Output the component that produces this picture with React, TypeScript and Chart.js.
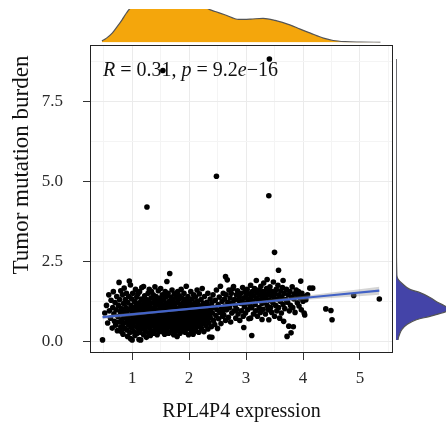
import React, { useEffect, useRef } from "react";
import { Chart, registerables } from "chart.js";

Chart.register(...registerables);

// ---------------- data ----------------
const xTitle = "RPL4P4 expression";
const yTitle = "Tumor mutation burden";
const corR = "0.31";
const corPMantissa = "9.2";
const corPExp = "\u221216";

const xRange = [0.26, 5.58];
const yRange = [-0.37, 9.27];
const xGridTicks = [0.5, 1, 1.5, 2, 2.5, 3, 3.5, 4, 4.5, 5, 5.5];
const xMajorTicks = [1, 2, 3, 4, 5];
const xTickLabels = ["1", "2", "3", "4", "5"];
const yGridTicks = [0, 1.25, 2.5, 3.75, 5, 6.25, 7.5, 8.75];
const yMajorTicks = [0, 2.5, 5, 7.5];
const yTickLabels = ["0.0", "2.5", "5.0", "7.5"];

// samples with low expression (x < 1.5)
const lowSamples: [number, number][] = [
  [0.48,0.04],[0.52,0.88],[0.55,1.12],[0.57,0.57],[0.59,1.45],[0.6,0.95],
  [0.62,0.72],[0.63,1.28],[0.65,0.41],[0.66,1.05],[0.67,1.55],[0.68,0.86],[0.69,0.62],[0.7,1.21],
  [0.71,0.5],[0.72,0.98],[0.73,1.4],[0.74,0.33],[0.75,0.77],[0.76,1.12],[0.77,1.84],[0.77,0.6],[0.78,1.3],[0.79,0.92],[0.8,0.45],[0.8,1.58],
  [0.81,0.3],[0.81,1.02],[0.82,0.68],[0.83,1.45],[0.83,0.84],[0.84,0.22],[0.85,1.18],[0.85,0.55],[0.86,0.95],[0.86,1.66],[0.87,0.4],[0.88,1.3],[0.88,0.74],[0.89,1.05],[0.9,0.6],[0.9,1.5],
  [0.91,0.88],[0.91,0.35],[0.92,1.22],[0.92,0.15],[0.93,0.7],[0.94,1.4],[0.94,0.5],[0.95,1.88],[0.95,1.0],[0.96,0.27],[0.96,0.8],[0.97,1.76],[0.97,0.08],[0.98,0.62],[0.98,1.12],[0.99,0.42],[0.99,1.33],[1.0,0.93],
  [1.0,0.04],[1.01,0.55],[1.01,1.5],[1.02,0.75],[1.03,1.05],[1.03,0.3],[1.04,1.25],[1.05,0.65],[1.05,0.18],[1.06,0.98],[1.06,1.62],[1.07,0.45],[1.07,0.85],[1.08,1.38],[1.08,1.15],[1.09,0.58],[1.09,0.25],[1.1,1.02],[1.1,0.72],[1.1,1.48],
  [1.11,0.38],[1.11,0.9],[1.12,0.05],[1.12,1.2],[1.13,0.6],[1.13,1.55],[1.14,0.8],[1.14,0.28],[1.15,1.08],[1.15,0.04],[1.15,0.48],[1.16,1.32],[1.16,0.7],[1.17,0.95],[1.17,1.68],[1.18,0.4],[1.18,1.12],[1.19,0.62],[1.19,0.85],[1.2,1.71],[1.2,0.2],[1.2,1.25],
  [1.21,0.52],[1.21,1.0],[1.22,0.75],[1.22,1.42],[1.23,0.33],[1.23,0.9],[1.24,1.15],[1.24,0.58],[1.25,1.3],[1.25,0.12],[1.26,0.82],[1.26,4.2],[1.27,0.45],[1.27,1.05],[1.28,1.5],[1.28,0.68],[1.29,0.25],[1.29,0.95],[1.3,1.22],[1.3,0.55],[1.3,1.62],[1.3,0.78],
  [1.31,0.4],[1.31,1.1],[1.32,0.88],[1.32,0.18],[1.33,1.35],[1.33,0.62],[1.34,0.98],[1.34,1.55],[1.35,0.5],[1.35,0.75],[1.36,1.2],[1.36,0.3],[1.37,0.92],[1.37,1.45],[1.38,0.25],[1.38,0.68],[1.39,1.05],[1.39,0.45],[1.4,1.3],[1.4,0.85],[1.4,1.7],[1.4,0.6],
  [1.41,0.35],[1.41,1.0],[1.42,0.72],[1.42,1.4],[1.43,0.52],[1.43,1.15],[1.44,0.88],[1.44,0.2],[1.45,1.25],[1.45,0.65],[1.46,0.42],[1.46,1.58],[1.47,0.95],[1.47,0.78],[1.48,1.1],[1.48,0.3],[1.49,0.58],[1.49,1.35],[1.5,0.82],[1.5,1.05],[1.5,0.48],[1.5,1.65],
];

// samples with mid expression (1.5 - 2.9)
const midSamples: [number, number][] = [
  [1.51,0.7],[1.51,1.22],[1.52,0.38],[1.52,0.98],[1.53,0.3],[1.53,1.45],[1.54,0.62],[1.54,8.47],[1.55,0.88],[1.55,1.12],[1.56,0.5],[1.56,1.3],[1.57,0.22],[1.57,0.78],[1.58,1.02],[1.58,1.55],[1.59,0.42],[1.59,0.68],[1.6,1.18],[1.6,0.92],[1.6,0.58],[1.6,1.4],
  [1.61,1.87],[1.61,0.35],[1.62,0.8],[1.62,1.08],[1.63,0.55],[1.63,1.5],[1.64,0.98],[1.64,0.25],[1.65,0.7],[1.65,1.25],[1.66,2.12],[1.66,0.45],[1.67,0.88],[1.67,1.15],[1.68,0.62],[1.68,1.38],[1.69,0.32],[1.69,1.0],[1.7,0.75],[1.7,1.6],[1.7,0.5],[1.7,1.2],
  [1.71,0.92],[1.71,0.4],[1.72,1.3],[1.72,0.65],[1.73,1.05],[1.73,0.2],[1.74,0.82],[1.74,1.48],[1.75,0.55],[1.75,1.12],[1.76,0.3],[1.76,0.95],[1.77,1.38],[1.77,0.72],[1.78,0.45],[1.78,1.2],[1.79,0.15],[1.79,0.88],[1.8,1.02],[1.8,0.6],[1.8,1.55],[1.8,0.78],
  [1.81,0.38],[1.81,1.28],[1.82,0.68],[1.82,1.0],[1.83,0.5],[1.83,1.42],[1.84,0.85],[1.84,0.25],[1.85,1.15],[1.85,0.62],[1.86,0.95],[1.86,1.62],[1.87,0.42],[1.87,0.78],[1.88,1.08],[1.88,1.35],[1.89,0.55],[1.89,0.32],[1.9,0.9],[1.9,1.22],
  [1.91,0.7],[1.91,1.5],[1.92,0.45],[1.92,1.05],[1.93,0.82],[1.93,0.28],[1.94,1.3],[1.94,0.6],[1.95,0.95],[1.95,1.72],[1.96,0.38],[1.96,1.15],[1.97,0.75],[1.97,0.52],[1.98,1.4],[1.98,0.88],[1.99,0.2],[1.99,1.02],[2.0,0.65],[2.0,1.25],
  [2.01,0.42],[2.01,0.92],[2.02,1.18],[2.02,0.58],[2.03,1.55],[2.03,0.78],[2.04,0.3],[2.04,1.05],[2.05,0.68],[2.05,1.32],[2.06,0.5],[2.06,0.85],[2.07,1.1],[2.07,0.22],[2.08,0.98],[2.08,1.45],[2.09,0.62],[2.09,0.4],[2.1,0.8],[2.1,1.2],
  [2.11,0.55],[2.11,1.38],[2.12,0.9],[2.12,0.32],[2.13,1.05],[2.13,0.7],[2.14,1.6],[2.14,0.45],[2.15,0.82],[2.15,1.25],[2.16,0.6],[2.16,0.98],[2.17,0.28],[2.17,1.12],[2.18,0.75],[2.18,1.48],[2.19,0.5],[2.2,0.92],
  [2.21,1.3],[2.21,0.65],[2.22,0.4],[2.22,1.05],[2.23,0.85],[2.23,1.65],[2.24,0.55],[2.25,1.18],[2.25,0.72],[2.26,0.3],[2.26,0.95],[2.27,1.4],[2.28,0.62],[2.28,1.08],[2.29,0.82],[2.3,0.48],
  [2.31,1.22],[2.31,0.7],[2.32,0.95],[2.33,0.38],[2.33,1.5],[2.34,0.85],[2.35,1.1],[2.35,0.58],[2.36,0.13],[2.37,1.32],[2.37,0.75],[2.38,1.0],[2.39,0.45],[2.4,1.2],
  [2.4,0.12],[2.41,0.88],[2.42,1.45],[2.43,0.65],[2.44,1.05],[2.45,0.52],[2.46,1.28],[2.47,0.8],[2.48,5.16],[2.48,1.6],[2.49,0.98],[2.5,0.4],
  [2.51,1.15],[2.52,0.7],[2.53,1.38],[2.54,0.9],[2.55,1.72],[2.56,0.55],[2.57,1.05],[2.58,1.25],[2.59,0.78],[2.6,1.5],[2.6,0.95],
  [2.61,0.82],[2.62,1.32],[2.63,1.1],[2.64,2.02],[2.64,0.65],[2.65,1.45],[2.66,0.98],[2.67,1.92],[2.68,1.22],[2.69,0.75],[2.7,1.6],
  [2.71,1.05],[2.72,1.35],[2.73,0.6],[2.74,1.5],[2.75,0.88],[2.76,1.2],[2.77,1.65],[2.78,1.71],[2.79,0.95],[2.8,1.3],
  [2.81,1.12],[2.82,0.72],[2.83,1.45],[2.84,1.0],[2.85,1.58],[2.86,0.85],[2.87,1.28],[2.88,1.38],[2.89,0.65],[2.9,1.18],
];

// samples with high expression (x > 2.9)
const highSamples: [number, number][] = [
  [2.91,1.5],[2.92,0.95],[2.93,1.25],[2.94,1.68],[2.95,0.78],[2.96,0.43],[2.96,1.35],[2.97,1.08],[2.98,1.55],[2.99,0.88],[3.0,1.42],
  [3.01,1.2],[3.02,1.62],[3.03,0.98],[3.04,1.3],[3.05,0.7],[3.06,1.48],[3.07,1.12],[3.08,0.72],[3.08,1.75],[3.09,1.38],[3.1,0.18],
  [3.1,1.05],[3.11,1.55],[3.12,1.25],[3.13,0.85],[3.14,1.42],[3.15,1.65],[3.16,1.15],[3.17,0.95],[3.18,1.9],[3.18,1.35],[3.19,1.52],[3.2,0.78],
  [3.21,1.28],[3.22,1.6],[3.23,1.05],[3.24,1.45],[3.25,0.9],[3.26,1.72],[3.27,1.32],[3.28,1.18],[3.28,0.68],[3.29,1.55],[3.3,1.4],[3.3,1.0],
  [3.31,1.82],[3.32,1.22],[3.33,1.5],[3.34,0.85],[3.35,1.35],[3.36,1.65],[3.37,1.93],[3.37,1.12],[3.38,1.45],[3.39,0.98],[3.4,4.55],[3.4,0.67],[3.4,1.58],
  [3.41,8.83],[3.41,1.28],[3.42,1.7],[3.43,1.05],[3.44,1.42],[3.45,0.9],[3.46,1.55],[3.47,1.2],[3.48,1.85],[3.49,1.35],[3.5,2.78],[3.5,0.78],
  [3.51,1.48],[3.52,1.12],[3.53,1.62],[3.54,0.95],[3.55,1.32],[3.56,1.75],[3.57,2.22],[3.57,1.05],[3.58,1.45],[3.59,0.72],[3.6,1.25],
  [3.61,1.58],[3.62,0.88],[3.63,1.38],[3.64,1.68],[3.65,1.9],[3.65,1.15],[3.66,0.62],[3.67,1.5],[3.68,1.02],[3.7,1.3],
  [3.71,1.62],[3.72,0.15],[3.73,1.22],[3.74,1.45],[3.75,0.47],[3.76,0.95],[3.77,1.55],[3.78,1.12],[3.79,0.26],[3.8,1.38],
  [3.81,1.7],[3.82,1.05],[3.83,0.45],[3.84,1.32],[3.85,1.48],[3.86,0.9],[3.88,1.6],[3.9,1.2],
  [3.91,1.42],[3.92,1.55],[3.93,1.1],[3.95,1.35],[3.96,1.88],[3.97,0.98],[3.98,1.5],[4.0,1.25],
  [4.01,1.4],[4.02,0.88],[4.03,0.82],[4.05,1.3],[4.08,1.45],[4.12,1.66],[4.17,1.66],
  [4.4,1.01],[4.49,0.96],[4.51,0.67],[4.89,1.43],[5.34,1.32],
];

// linear fit and its confidence band
const fitX = [0.48, 1.5, 2.5, 3.5, 4.5, 5.34];
const fitY = [0.75, 0.924, 1.095, 1.266, 1.437, 1.58];
const bandLow = [0.69, 0.889, 1.065, 1.221, 1.352, 1.455];
const bandHigh = [0.81, 0.959, 1.125, 1.311, 1.522, 1.705];

// marginal densities
const topDensityX = [0.47, 0.55, 0.65, 0.74, 0.82, 0.9, 0.97, 1.1, 1.3, 1.6, 1.9, 2.2, 2.34, 2.46, 2.64, 2.87, 3.08, 3.3, 3.51, 3.78, 3.95, 4.13, 4.36, 4.53, 4.74, 5.0, 5.36];
const topDensityH = [0.045, 0.13, 0.28, 0.48, 0.67, 0.88, 1.03, 1.15, 1.28, 1.35, 1.3, 1.18, 1.0, 0.925, 0.82, 0.69, 0.7, 0.72, 0.66, 0.52, 0.4, 0.28, 0.13, 0.06, 0.025, 0.012, 0.005];
const rightDensityTMB = [0.04, 0.12, 0.21, 0.37, 0.52, 0.68, 0.77, 0.83, 0.93, 1.02, 1.12, 1.21, 1.37, 1.52, 1.62, 1.78, 1.93, 2.03, 2.2, 2.6, 4.0, 6.0, 8.83];
const rightDensityH = [0.04, 0.05, 0.07, 0.12, 0.22, 0.42, 0.66, 0.8, 1.0, 1.04, 0.96, 0.84, 0.68, 0.48, 0.28, 0.14, 0.046, 0.02, 0.015, 0.01, 0.008, 0.005, 0.004];

// ---------------- layout / style ----------------
const W = 446;
const H = 426;
const PANEL = { left: 90, right: 393, top: 45, bottom: 353 };
const TOP_STRIP = { top: 9, bottom: 42.5 };
const RIGHT_STRIP = { left: 396 };
const SERIF = '"Liberation Serif", "Times New Roman", serif';
const ORANGE = "#F4A60C";
const BLUE = "#4444A8";
const FIT_BLUE = "#4262C6";

const near = (a: number, list: number[]) => list.some((v) => Math.abs(v - a) < 1e-6);

const panelPlugin = {
  id: "panelDecor",
  beforeDatasetsDraw(chart: any) {
    const { ctx, chartArea } = chart;
    ctx.save();
    ctx.fillStyle = "#111";
    ctx.textBaseline = "alphabetic";
    ctx.textAlign = "left";
    const segs = [
      { t: "R", i: true },
      { t: " = " + corR + ", ", i: false },
      { t: "p", i: true },
      { t: " = " + corPMantissa, i: false },
      { t: "e", i: true },
      { t: corPExp, i: false },
    ];
    let x = chartArea.left + 13;
    const y = chartArea.top + 31;
    for (const s of segs) {
      ctx.font = `${s.i ? "italic " : ""}20px ${SERIF}`;
      ctx.fillText(s.t, x, y);
      x += ctx.measureText(s.t).width;
    }
    ctx.restore();
  },
  afterDatasetsDraw(chart: any) {
    const { ctx, chartArea } = chart;
    ctx.save();
    ctx.strokeStyle = "#222";
    ctx.lineWidth = 1;
    ctx.strokeRect(
      Math.round(chartArea.left) + 0.5,
      Math.round(chartArea.top) + 0.5,
      Math.round(chartArea.right - chartArea.left) - 1,
      Math.round(chartArea.bottom - chartArea.top) - 1
    );
    ctx.restore();
  },
  afterDraw(chart: any) {
    const { ctx } = chart;
    ctx.save();
    ctx.translate(22, 165);
    ctx.rotate(-Math.PI / 2);
    ctx.textAlign = "center";
    ctx.textBaseline = "middle";
    ctx.font = `23px ${SERIF}`;
    ctx.fillStyle = "#111";
    ctx.fillText(yTitle, 0, 0);
    ctx.restore();
  },
};

export default function App() {
  const mainRef = useRef<HTMLCanvasElement>(null);
  const topRef = useRef<HTMLCanvasElement>(null);
  const rightRef = useRef<HTMLCanvasElement>(null);

  useEffect(() => {
    const charts: Chart[] = [];
    const allSamples = [...lowSamples, ...midSamples, ...highSamples];

    charts.push(
      new Chart(mainRef.current as HTMLCanvasElement, {
        type: "line",
        data: {
          datasets: [
            {
              label: "samples",
              data: allSamples.map(([x, y]) => ({ x, y })),
              showLine: false,
              pointRadius: 2.8,
              pointBackgroundColor: "#000",
              pointBorderWidth: 0,
              pointHoverRadius: 0,
              order: 4,
            } as any,
            {
              label: "ciLow",
              data: fitX.map((x, i) => ({ x, y: bandLow[i] })),
              borderWidth: 0,
              borderColor: "rgba(0,0,0,0)",
              pointRadius: 0,
              fill: false,
              cubicInterpolationMode: "monotone",
              order: 3,
            },
            {
              label: "ciHigh",
              data: fitX.map((x, i) => ({ x, y: bandHigh[i] })),
              borderWidth: 0,
              borderColor: "rgba(0,0,0,0)",
              backgroundColor: "rgba(150,150,150,0.4)",
              pointRadius: 0,
              fill: "-1",
              cubicInterpolationMode: "monotone",
              order: 2,
            },
            {
              label: "fit",
              data: fitX.map((x, i) => ({ x, y: fitY[i] })),
              borderColor: FIT_BLUE,
              borderWidth: 2.2,
              pointRadius: 0,
              fill: false,
              order: 1,
            },
          ],
        },
        options: {
          responsive: false,
          animation: false,
          events: [],
          layout: { padding: { left: 0, right: W - PANEL.right, top: PANEL.top, bottom: 0 } },
          plugins: { legend: { display: false }, tooltip: { enabled: false } },
          scales: {
            x: {
              type: "linear",
              min: xRange[0],
              max: xRange[1],
              afterBuildTicks: (s: any) => {
                s.ticks = xGridTicks.map((value) => ({ value }));
              },
              afterFit: (s: any) => {
                s.height = H - PANEL.bottom;
              },
              ticks: {
                autoSkip: false,
                maxRotation: 0,
                padding: 8,
                color: "#2a2a2a",
                font: { family: SERIF, size: 17 },
                callback: (v: any) => {
                  const idx = xMajorTicks.findIndex((m) => Math.abs(m - v) < 1e-6);
                  return idx >= 0 ? xTickLabels[idx] : "";
                },
              },
              grid: {
                color: (c: any) => (c.tick && near(c.tick.value, xMajorTicks) ? "#EBEBEB" : "#F4F4F4"),
                tickColor: (c: any) => (c.tick && near(c.tick.value, xMajorTicks) ? "#333" : "rgba(0,0,0,0)"),
                tickLength: 7,
                drawTicks: true,
              },
              border: { display: false },
              title: {
                display: true,
                text: xTitle,
                color: "#111",
                font: { family: SERIF, size: 20 },
                padding: { top: 0, bottom: 2 },
              },
            },
            y: {
              type: "linear",
              min: yRange[0],
              max: yRange[1],
              afterBuildTicks: (s: any) => {
                s.ticks = yGridTicks.map((value) => ({ value }));
              },
              afterFit: (s: any) => {
                s.width = PANEL.left;
              },
              ticks: {
                autoSkip: false,
                padding: 20,
                color: "#2a2a2a",
                font: { family: SERIF, size: 17 },
                callback: (v: any) => {
                  const idx = yMajorTicks.findIndex((m) => Math.abs(m - v) < 1e-6);
                  return idx >= 0 ? yTickLabels[idx] : "";
                },
              },
              grid: {
                color: (c: any) => (c.tick && near(c.tick.value, yMajorTicks) ? "#EBEBEB" : "#F4F4F4"),
                tickColor: (c: any) => (c.tick && near(c.tick.value, yMajorTicks) ? "#333" : "rgba(0,0,0,0)"),
                tickLength: 7,
                drawTicks: true,
              },
              border: { display: false },
            },
          },
        } as any,
        plugins: [panelPlugin],
      })
    );

    charts.push(
      new Chart(topRef.current as HTMLCanvasElement, {
        type: "line",
        data: {
          datasets: [
            {
              data: topDensityX.map((x, i) => ({ x, y: topDensityH[i] })),
              fill: "origin",
              backgroundColor: ORANGE,
              borderColor: "#555",
              borderWidth: 1.2,
              pointRadius: 0,
              cubicInterpolationMode: "monotone",
            },
          ],
        },
        options: {
          responsive: false,
          animation: false,
          events: [],
          layout: { padding: { left: PANEL.left, right: W - PANEL.right, top: TOP_STRIP.top, bottom: 45 - TOP_STRIP.bottom } },
          plugins: { legend: { display: false }, tooltip: { enabled: false } },
          scales: {
            x: { type: "linear", display: false, min: xRange[0], max: xRange[1] },
            y: { type: "linear", display: false, min: 0, max: 1 },
          },
        } as any,
      })
    );

    charts.push(
      new Chart(rightRef.current as HTMLCanvasElement, {
        type: "line",
        data: {
          datasets: [
            {
              data: rightDensityTMB.map((y, i) => ({ x: rightDensityH[i], y })),
              fill: "origin",
              backgroundColor: BLUE,
              borderColor: "#555",
              borderWidth: 1.2,
              pointRadius: 0,
              cubicInterpolationMode: "monotone",
            },
          ],
        },
        options: {
          indexAxis: "y",
          responsive: false,
          animation: false,
          events: [],
          layout: { padding: { left: RIGHT_STRIP.left - PANEL.right, right: 0, top: PANEL.top, bottom: H - PANEL.bottom } },
          plugins: { legend: { display: false }, tooltip: { enabled: false } },
          scales: {
            x: { type: "linear", display: false, min: 0, max: 1 },
            y: { type: "linear", display: false, min: yRange[0], max: yRange[1] },
          },
        } as any,
      })
    );

    return () => charts.forEach((c) => c.destroy());
  }, []);

  return (
    <div style={{ position: "absolute", left: 0, top: 0, width: W, height: H, background: "#fff", overflow: "hidden" }}>
      <canvas ref={mainRef} width={W} height={H} style={{ position: "absolute", left: 0, top: 0, width: W, height: H }} />
      <canvas ref={topRef} width={W} height={45} style={{ position: "absolute", left: 0, top: 0, width: W, height: 45 }} />
      <canvas ref={rightRef} width={W - PANEL.right} height={H} style={{ position: "absolute", left: PANEL.right, top: 0, width: W - PANEL.right, height: H }} />
    </div>
  );
}
